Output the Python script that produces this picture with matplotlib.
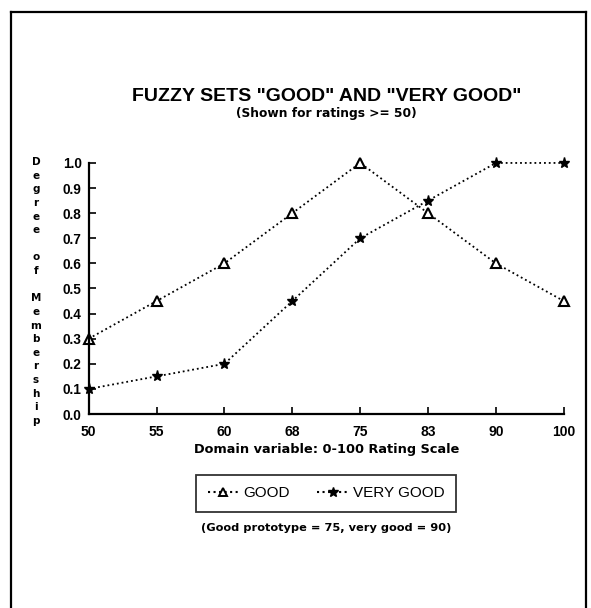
import numpy as np
import matplotlib
matplotlib.use("Agg")
import matplotlib.pyplot as plt
from matplotlib.lines import Line2D

# data
ratings = ["50", "55", "60", "68", "75", "83", "90", "100"]
good = [0.3, 0.45, 0.6, 0.8, 1.0, 0.8, 0.6, 0.45]
very_good = [0.1, 0.15, 0.2, 0.45, 0.7, 0.85, 1.0, 1.0]
y_ticks = [0.0, 0.1, 0.2, 0.3, 0.4, 0.5, 0.6, 0.7, 0.8, 0.9, 1.0]
y_label = "Degree of Membership"

plt.rcParams['font.family'] = ['Liberation Sans', 'DejaVu Sans']
small_bold = dict(family='DejaVu Sans', fontweight='bold')

fig = plt.figure(figsize=(5.91, 6.08), dpi=100)
ax = fig.add_axes([0.150, 0.319, 0.804, 0.413])

x = np.arange(len(ratings))
ax.plot(x, good, linestyle=':', color='black', linewidth=1.3, marker='^',
        markersize=7, markerfacecolor='white', markeredgecolor='black',
        markeredgewidth=1.5, clip_on=False, label='GOOD')
ax.plot(x, very_good, linestyle=':', color='black', linewidth=1.3, marker='*',
        markersize=8, markerfacecolor='black', markeredgecolor='black',
        clip_on=False, label='VERY GOOD')

ax.set_xlim(0, len(ratings) - 1)
ax.set_ylim(0, 1.0)
ax.set_xticks(x)
ax.set_xticklabels(ratings, fontweight='bold', fontsize=10)
ax.set_yticks(y_ticks)
ax.set_yticklabels([f"{v:.1f}" for v in y_ticks], fontweight='bold', fontsize=9.8)
ax.tick_params(direction='in', length=5, width=1.2, pad=5)
ax.tick_params(axis='x', pad=8)
for s in ['top', 'right']:
    ax.spines[s].set_visible(False)
for s in ['left', 'bottom']:
    ax.spines[s].set_linewidth(1.6)

fig.text(0.552, 0.260, "Domain variable: 0-100 Rating Scale", ha='center',
         va='center', fontsize=9.3, **small_bold)

# y label written as a column of letters
top_y, bot_y = 1 - 162 / 608, 1 - 421 / 608
for i, ch in enumerate(y_label):
    if ch == ' ':
        continue
    yy = top_y + (bot_y - top_y) * i / (len(y_label) - 1)
    fig.text(0.061, yy, ch, ha='center', va='center', fontsize=7.5, **small_bold)

fig.text(0.552, 0.842, 'FUZZY SETS "GOOD" AND "VERY GOOD"', ha='center',
         va='center', fontweight='bold', fontsize=14)
fig.text(0.552, 0.8125, "(Shown for ratings >= 50)", ha='center', va='center',
         fontsize=8.8, **small_bold)

handles = [
    Line2D([], [], linestyle=':', color='black', marker='^', markersize=6,
           markerfacecolor='white', markeredgewidth=1.4),
    Line2D([], [], linestyle=':', color='black', marker='*', markersize=7,
           markerfacecolor='black'),
]
leg = fig.legend(handles, ['GOOD', 'VERY GOOD'], loc='center',
                 bbox_to_anchor=(0.552, 0.189), ncol=2, frameon=True,
                 fancybox=False, edgecolor='black', fontsize=11,
                 handlelength=2.0, handletextpad=0.35, columnspacing=1.8,
                 borderpad=0.75)
leg.get_frame().set_linewidth(1.3)

fig.text(0.552, 0.132, "(Good prototype = 75, very good = 90)", ha='center',
         va='center', fontsize=8.2, **small_bold)

# page border
border = dict(color='black', linewidth=1.6, transform=fig.transFigure)
fig.add_artist(Line2D([0.019, 0.019], [0.0, 0.980], **border))
fig.add_artist(Line2D([0.019, 0.992], [0.980, 0.980], **border))
fig.add_artist(Line2D([0.992, 0.992], [0.0, 0.980], **border))

fig.savefig("out.png", dpi=100)
